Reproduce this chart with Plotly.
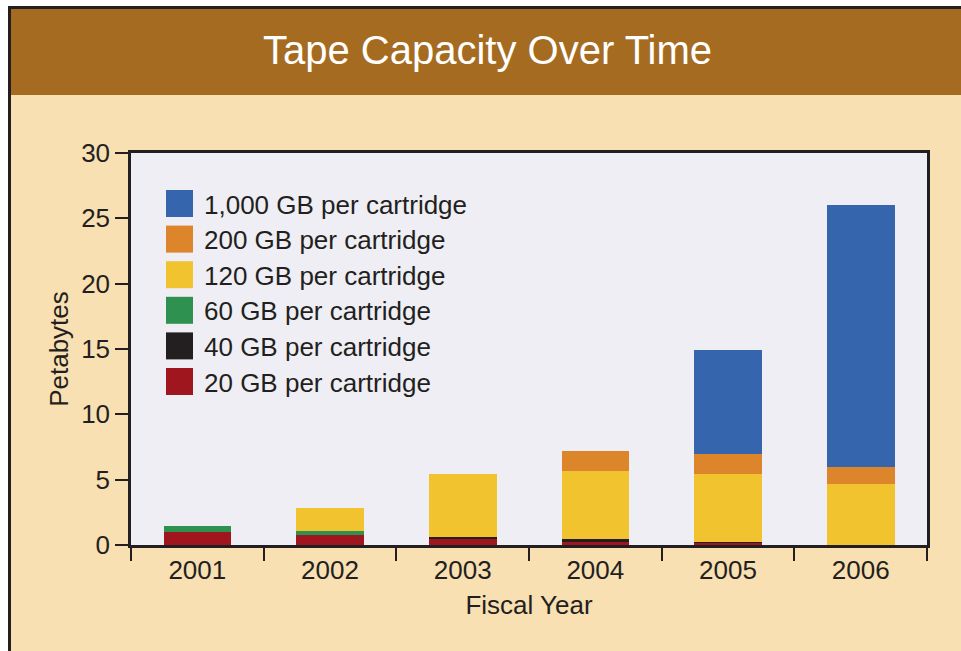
import plotly.graph_objects as go

# Fiscal years and petabytes stored per cartridge type
years = ["2001", "2002", "2003", "2004", "2005", "2006"]

series_names = [
    "20 GB per cartridge",
    "40 GB per cartridge",
    "60 GB per cartridge",
    "120 GB per cartridge",
    "200 GB per cartridge",
    "1,000 GB per cartridge",
]
series_colors = ["#A0161F", "#231F20", "#2E9150", "#F1C42F", "#DD852B", "#3565AC"]

pb_20gb = [1.0, 0.77, 0.5, 0.25, 0.2, 0.0]
pb_40gb = [0.0, 0.0, 0.1, 0.2, 0.05, 0.0]
pb_60gb = [0.45, 0.3, 0.0, 0.0, 0.0, 0.0]
pb_120gb = [0.0, 1.8, 4.8, 5.2, 5.2, 4.7]
pb_200gb = [0.0, 0.0, 0.0, 1.55, 1.5, 1.3]
pb_1000gb = [0.0, 0.0, 0.0, 0.0, 8.0, 20.0]

series_values = [pb_20gb, pb_40gb, pb_60gb, pb_120gb, pb_200gb, pb_1000gb]

y_ticks = [0, 5, 10, 15, 20, 25, 30]

FONT = "Liberation Sans, Arial, sans-serif"
INK = "#231F20"
CREAM = "#F8E0B3"
BROWN = "#A56C21"
PLOT_BG = "#EEEEF4"

W, H = 961, 651
L, R, T, B = 131, 34, 153, 106
PW, PH = W - L - R, H - T - B


def px_x(px):
    return (px - L) / PW


def px_y(py):
    return (H - B - py) / PH


fig = go.Figure()
for name, color, vals in zip(series_names, series_colors, series_values):
    fig.add_trace(go.Bar(
        x=years, y=vals, name=name,
        marker=dict(color=color, line=dict(width=0)),
        showlegend=False,
    ))

shapes = []
# white margin outside the framed panel
shapes.append(dict(type="rect", xref="paper", yref="paper", layer="below",
                   x0=px_x(-5), x1=px_x(9), y0=px_y(H + 5), y1=px_y(-5),
                   fillcolor="white", line=dict(width=0)))
shapes.append(dict(type="rect", xref="paper", yref="paper", layer="below",
                   x0=px_x(-5), x1=px_x(W + 5), y0=px_y(7), y1=px_y(-5),
                   fillcolor="white", line=dict(width=0)))
# brown title band
shapes.append(dict(type="rect", xref="paper", yref="paper", layer="below",
                   x0=px_x(10), x1=px_x(W + 5), y0=px_y(95), y1=px_y(8),
                   fillcolor=BROWN, line=dict(width=0)))
# dark frame edges on the left and top
shapes.append(dict(type="line", xref="paper", yref="paper", layer="below",
                   x0=px_x(9.5), x1=px_x(9.5), y0=px_y(7), y1=px_y(H + 5),
                   line=dict(color=INK, width=3)))
shapes.append(dict(type="line", xref="paper", yref="paper", layer="below",
                   x0=px_x(8), x1=px_x(W + 5), y0=px_y(7.5), y1=px_y(7.5),
                   line=dict(color=INK, width=3)))

annotations = [
    dict(text="Tape Capacity Over Time", xref="paper", yref="paper",
         x=px_x(487), y=px_y(50), xanchor="center", yanchor="middle",
         showarrow=False, font=dict(family=FONT, size=40, color="white")),
]

# legend: coloured squares with labels, top series first
legend_order = list(range(len(series_names)))[::-1]
row0, step, half = 203.5, 35.6, 13.5
for i, k in enumerate(legend_order):
    cy = row0 + step * i
    shapes.append(dict(type="rect", xref="paper", yref="paper",
                       x0=px_x(166), x1=px_x(193),
                       y0=px_y(cy + half), y1=px_y(cy - half),
                       fillcolor=series_colors[k], line=dict(width=0)))
    annotations.append(dict(text=series_names[k], xref="paper", yref="paper",
                            x=px_x(202), y=px_y(cy + 1), xanchor="left",
                            yanchor="middle", showarrow=False,
                            font=dict(family=FONT, size=26, color=INK)))

fig.update_layout(
    width=W, height=H,
    margin=dict(l=L, r=R, t=T, b=B, pad=0),
    paper_bgcolor=CREAM,
    plot_bgcolor=PLOT_BG,
    barmode="stack",
    bargap=0.49,
    font=dict(family=FONT, color=INK),
    shapes=shapes,
    annotations=annotations,
    xaxis=dict(
        type="category",
        showline=True, linecolor=INK, linewidth=2.5, mirror=True,
        ticks="outside", tickson="boundaries", ticklen=13, tickwidth=1.5,
        tickcolor=INK, showgrid=False,
        tickfont=dict(family=FONT, size=26, color=INK),
        title=dict(text="Fiscal Year", font=dict(family=FONT, size=26, color=INK),
                   standoff=12),
    ),
    yaxis=dict(
        range=[0, 30],
        tickvals=y_ticks,
        showline=True, linecolor=INK, linewidth=2.5, mirror=True,
        ticks="outside", ticklen=13, tickwidth=1.5, tickcolor=INK,
        showgrid=False, zeroline=False,
        tickfont=dict(family=FONT, size=26, color=INK),
        title=dict(text="Petabytes", font=dict(family=FONT, size=26, color=INK),
                   standoff=6),
    ),
)

fig.write_html("out.html")
